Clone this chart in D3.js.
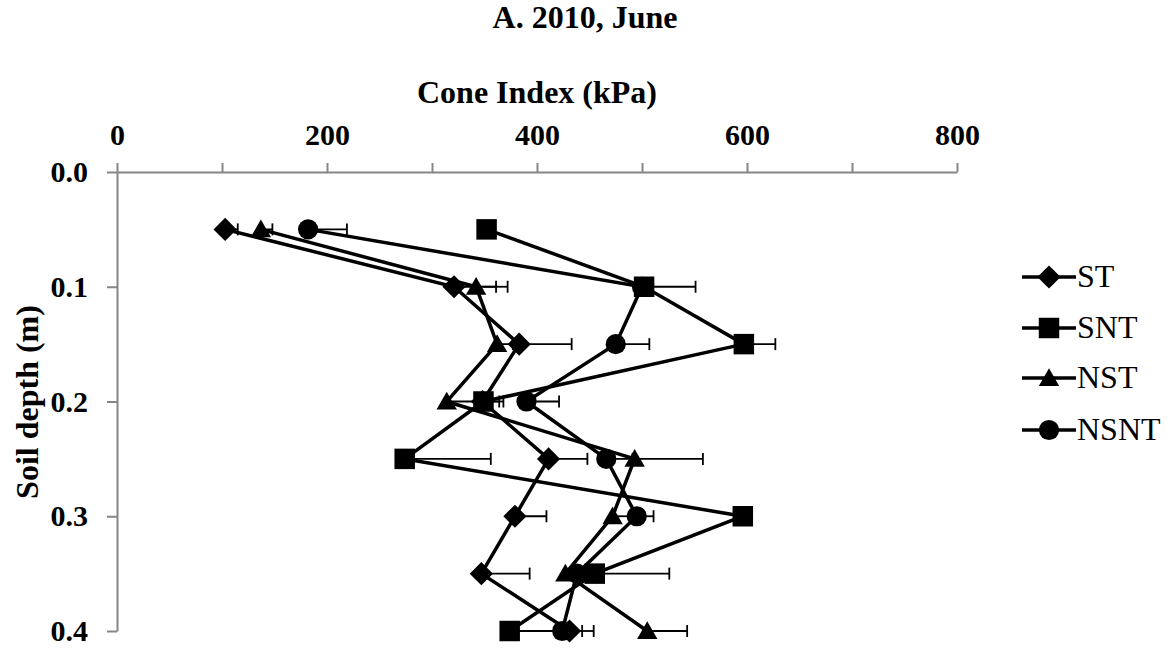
<!DOCTYPE html>
<html>
<head>
<meta charset="utf-8">
<script src="https://cdn.jsdelivr.net/npm/d3@7"></script>
<style>
  body { margin: 0; background: #fff; }
  svg { font-family: "Liberation Serif", "Times New Roman", serif; }
</style>
</head>
<body>
<script>
// data:
var depths = [0.05, 0.1, 0.15, 0.2, 0.25, 0.3, 0.35, 0.4];
var seriesNames = ["ST", "SNT", "NST", "NSNT"];
var ST   = [103, 321, 383, 348, 411, 379, 347, 431];
var SNT  = [352, 502, 597, 349, 274, 596, 455, 374];
var NST  = [137, 342, 362, 314, 493, 472, 427, 505];
var NSNT = [182, 500, 475, 390, 466, 495, 438, 424];
// plus-only error bars:
var ST_err   = [12, 40, 50, 20, 37, 30, 46, 23];
var SNT_err  = [5, 49, 30, 15, 82, 5, 71, 45];
var NST_err  = [11, 30, 15, 35, 65, 20, 20, 38];
var NSNT_err = [37, 10, 32, 31, 25, 16, 15, 19];
var xTicks = [0, 100, 200, 300, 400, 500, 600, 700, 800];
var yTicks = [0, 0.1, 0.2, 0.3, 0.4];

var values = [ST, SNT, NST, NSNT];
var errs = [ST_err, SNT_err, NST_err, NSNT_err];
var shapes = ["diamond", "square", "triangle", "circle"];

// SVG size:
var w_svg = 1171;
var h_svg = 650;
var axisCol = "#868686";

var svg = d3.select("body").append("svg")
  .attr("width", w_svg).attr("height", h_svg);

// scales:
var xScale = d3.scaleLinear().domain([0, 800]).range([117, 957]);
var yScale = d3.scaleLinear().domain([0, 0.4]).range([172, 631]);

// title + axis titles:
svg.append("text").attr("x", 585).attr("y", 28)
  .attr("text-anchor", "middle").style("font-weight", "bold").style("font-size", "32px")
  .text("A. 2010, June");
svg.append("text").attr("x", 537).attr("y", 103)
  .attr("text-anchor", "middle").style("font-weight", "bold").style("font-size", "32px")
  .text("Cone Index (kPa)");
svg.append("text").attr("transform", "translate(38,402) rotate(-90)")
  .attr("text-anchor", "middle").style("font-weight", "bold").style("font-size", "32px")
  .text("Soil depth (m)");

// x-axis (on top):
var x_axis = d3.axisTop(xScale).tickValues(xTicks).tickSize(9).tickSizeOuter(0).tickPadding(18)
  .tickFormat(function(d) { return d % 200 === 0 ? d : ""; });
var gx = svg.append("g").attr("transform", "translate(0," + yScale(0) + ")").call(x_axis);

// y-axis:
var y_axis = d3.axisLeft(yScale).tickValues(yTicks).tickSize(10).tickSizeOuter(0).tickPadding(19)
  .tickFormat(d3.format(".1f"));
var gy = svg.append("g").attr("transform", "translate(" + xScale(0) + ",0)").call(y_axis);

[gx, gy].forEach(function(g) {
  g.selectAll("path, line").attr("stroke", axisCol).attr("stroke-width", 2);
  g.selectAll("text").attr("fill", "#000").style("font-family", "Liberation Serif, Times New Roman, serif")
    .style("font-weight", "bold").style("font-size", "30px");
});

// marker helper:
function marker(sel, shape) {
  if (shape === "diamond") {
    sel.append("path").attr("d", d3.symbol(d3.symbolSquare, 270)()).attr("transform", "rotate(45)");
  } else if (shape === "square") {
    sel.append("path").attr("d", d3.symbol(d3.symbolSquare, 420)());
  } else if (shape === "triangle") {
    sel.append("path").attr("d", d3.symbol(d3.symbolTriangle, 180)()).attr("transform", "translate(0,2)");
  } else {
    sel.append("path").attr("d", d3.symbol(d3.symbolCircle, 320)());
  }
  sel.selectAll("path").attr("fill", "#000");
}

var line = d3.line()
  .x(function(d) { return xScale(d[0]); })
  .y(function(d) { return yScale(d[1]); });

// error bars first, then lines + markers per series:
values.forEach(function(vals, s) {
  var pts = vals.map(function(v, i) { return [v, depths[i], errs[s][i]]; });
  var g = svg.append("g");
  // error bars (plus only):
  pts.forEach(function(p) {
    var x0 = xScale(p[0]), x1 = xScale(p[0] + p[2]), y = yScale(p[1]);
    g.append("line").attr("x1", x0).attr("x2", x1).attr("y1", y).attr("y2", y)
      .attr("stroke", "#000").attr("stroke-width", 1.8);
    g.append("line").attr("x1", x1).attr("x2", x1).attr("y1", y - 6).attr("y2", y + 6)
      .attr("stroke", "#000").attr("stroke-width", 1.8);
  });
  g.append("path").datum(pts).attr("d", line)
    .attr("fill", "none").attr("stroke", "#000").attr("stroke-width", 3.5);
  g.selectAll("g.pt").data(pts).enter().append("g").attr("class", "pt")
    .attr("transform", function(d) { return "translate(" + xScale(d[0]) + "," + yScale(d[1]) + ")"; })
    .each(function() { marker(d3.select(this), shapes[s]); });
});

// legend:
var legY = [277, 328, 378, 430];
seriesNames.forEach(function(name, i) {
  var lg = svg.append("g").attr("transform", "translate(1022," + legY[i] + ")");
  lg.append("line").attr("x1", 0).attr("x2", 54).attr("y1", 0).attr("y2", 0)
    .attr("stroke", "#000").attr("stroke-width", 3.5);
  var m = lg.append("g").attr("transform", "translate(27,0)");
  marker(m, shapes[i]);
  lg.append("text").attr("x", 55).attr("y", 10).style("font-size", "32px").text(name);
});
</script>
</body>
</html>
